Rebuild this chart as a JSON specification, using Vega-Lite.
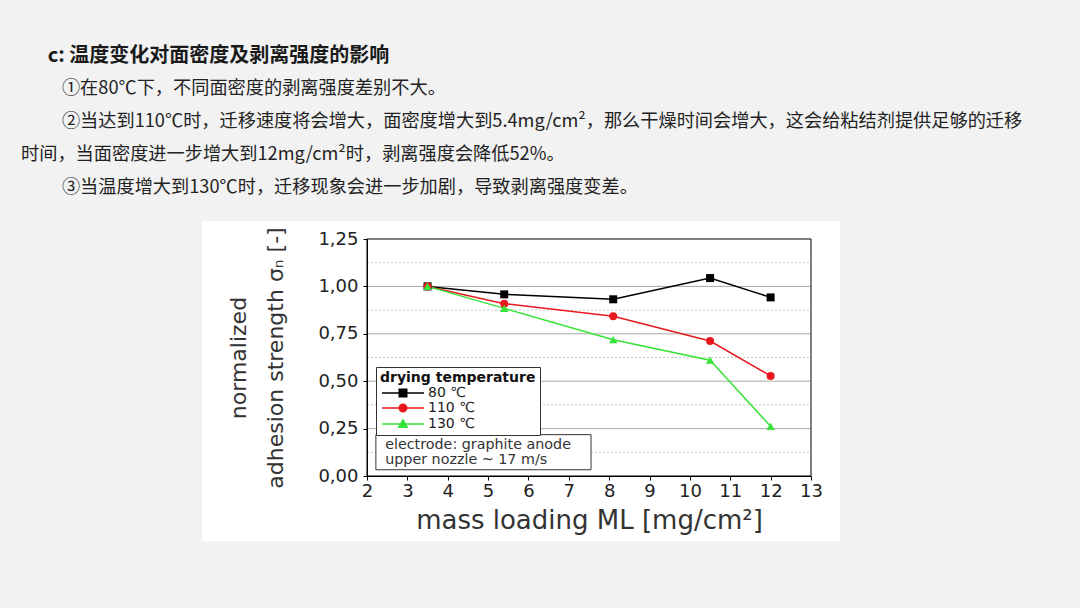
{
  "$schema": "https://vega.github.io/schema/vega-lite/v6.json",
  "width": 444,
  "height": 237,
  "autosize": {"type": "none"},
  "padding": {"left": 367, "top": 239, "right": 269, "bottom": 132},
  "background": "#f2f2f2",
  "config": {
    "view": {"stroke": null},
    "font": "DejaVu Sans",
    "axis": {"labelFont": "DejaVu Sans", "titleFont": "DejaVu Sans"}
  },
  "title": {
    "text": "\u200b\u3000\u2004c: 温度变化对面密度及剥离强度的影响",
    "subtitle": [
      "\u200b\u3000\u3000\u2005①在80℃下，不同面密度的剥离强度差别不大。",
      "\u200b\u3000\u3000\u2005②当达到110℃时，迁移速度将会增大，面密度增大到5.4mg/cm²，那么干燥时间会增大，这会给粘结剂提供足够的迁移",
      "时间，当面密度进一步增大到12mg/cm²时，剥离强度会降低52%。",
      "\u200b\u3000\u3000\u2005③当温度增大到130℃时，迁移现象会进一步加剧，导致剥离强度变差。"
    ],
    "anchor": "start",
    "frame": "group",
    "align": "left",
    "dx": -346,
    "offset": 25,
    "font": "Noto Sans CJK SC",
    "fontSize": 20,
    "fontWeight": "bold",
    "color": "#1a1a1a",
    "subtitleFont": "Noto Sans CJK SC",
    "subtitleFontSize": 18.2,
    "subtitleColor": "#222222",
    "subtitleLineHeight": 33,
    "subtitlePadding": 14
  },
  "datasets": {
    "adhesion": [
      {"series": "80 ℃", "ML": 3.5, "S": 1.0},
      {"series": "80 ℃", "ML": 5.4, "S": 0.958},
      {"series": "80 ℃", "ML": 8.1, "S": 0.932},
      {"series": "80 ℃", "ML": 10.5, "S": 1.044},
      {"series": "80 ℃", "ML": 12.0, "S": 0.942},
      {"series": "110 ℃", "ML": 3.5, "S": 1.0},
      {"series": "110 ℃", "ML": 5.4, "S": 0.909},
      {"series": "110 ℃", "ML": 8.1, "S": 0.842},
      {"series": "110 ℃", "ML": 10.5, "S": 0.712},
      {"series": "110 ℃", "ML": 12.0, "S": 0.528},
      {"series": "130 ℃", "ML": 3.5, "S": 1.0},
      {"series": "130 ℃", "ML": 5.4, "S": 0.884},
      {"series": "130 ℃", "ML": 8.1, "S": 0.719},
      {"series": "130 ℃", "ML": 10.5, "S": 0.611},
      {"series": "130 ℃", "ML": 12.0, "S": 0.262}
    ]
  },
  "data": {"name": "adhesion"},
  "layer": [
    {
      "data": {"values": [{}]},
      "mark": {"type": "rect", "fill": "#ffffff", "stroke": null},
      "encoding": {
        "x": {
          "datum": -2.088,
          "scale": {"domain": [2, 13], "nice": false, "zero": false},
          "axis": {
            "values": [2, 3, 4, 5, 6, 7, 8, 9, 10, 11, 12, 13],
            "title": "mass loading ML [mg/cm²]",
            "titleFontSize": 26, "titleFontWeight": "normal", "titleColor": "#333333", "titlePadding": 7,
            "labelFontSize": 18, "labelColor": "#222222", "labelPadding": 2, "labelFlush": false, "labelOverlap": false,
            "tickSize": 4, "tickColor": "#000000", "domainColor": "#000000", "grid": false, "zindex": 1
          }
        },
        "x2": {"datum": 13.72},
        "y": {
          "datum": -0.343,
          "scale": {"domain": [0, 1.25], "nice": false, "zero": false},
          "axis": {
            "values": [0, 0.125, 0.25, 0.375, 0.5, 0.625, 0.75, 0.875, 1, 1.125, 1.25],
            "labelExpr": "(round(datum.value*4) == datum.value*4) ? replace(format(datum.value, '.2f'), '.', ',') : ''",
            "title": ["normalized", "adhesion strength σₙ [-]"],
            "titleFontSize": 22, "titleLineHeight": 37, "titleFontWeight": "normal", "titleColor": "#333333", "titlePadding": 30,
            "labelFontSize": 18, "labelColor": "#222222", "labelPadding": 5, "labelFlush": false, "labelOverlap": false,
            "tickSize": 4, "tickColor": "#000000", "domainColor": "#000000", "grid": false, "zindex": 1
          }
        },
        "y2": {"datum": 1.345}
      }
    },
    {"data": {"values": [{}]}, "mark": {"type": "rule", "color": "#c8c8c8", "strokeWidth": 1, "strokeDash": [2, 2]},
     "encoding": {"x": {"datum": 2, "scale": {"domain": [2, 13], "nice": false, "zero": false}}, "x2": {"datum": 13}, "y": {"datum": 0.125, "scale": {"domain": [0, 1.25], "nice": false, "zero": false}}}},
    {"data": {"values": [{}]}, "mark": {"type": "rule", "color": "#c8c8c8", "strokeWidth": 1, "strokeDash": [2, 2]},
     "encoding": {"x": {"datum": 2, "scale": {"domain": [2, 13], "nice": false, "zero": false}}, "x2": {"datum": 13}, "y": {"datum": 0.375, "scale": {"domain": [0, 1.25], "nice": false, "zero": false}}}},
    {"data": {"values": [{}]}, "mark": {"type": "rule", "color": "#c8c8c8", "strokeWidth": 1, "strokeDash": [2, 2]},
     "encoding": {"x": {"datum": 2, "scale": {"domain": [2, 13], "nice": false, "zero": false}}, "x2": {"datum": 13}, "y": {"datum": 0.625, "scale": {"domain": [0, 1.25], "nice": false, "zero": false}}}},
    {"data": {"values": [{}]}, "mark": {"type": "rule", "color": "#c8c8c8", "strokeWidth": 1, "strokeDash": [2, 2]},
     "encoding": {"x": {"datum": 2, "scale": {"domain": [2, 13], "nice": false, "zero": false}}, "x2": {"datum": 13}, "y": {"datum": 0.875, "scale": {"domain": [0, 1.25], "nice": false, "zero": false}}}},
    {"data": {"values": [{}]}, "mark": {"type": "rule", "color": "#c8c8c8", "strokeWidth": 1, "strokeDash": [2, 2]},
     "encoding": {"x": {"datum": 2, "scale": {"domain": [2, 13], "nice": false, "zero": false}}, "x2": {"datum": 13}, "y": {"datum": 1.125, "scale": {"domain": [0, 1.25], "nice": false, "zero": false}}}},
    {"data": {"values": [{}]}, "mark": {"type": "rule", "color": "#a8a8a8", "strokeWidth": 1},
     "encoding": {"x": {"datum": 2, "scale": {"domain": [2, 13], "nice": false, "zero": false}}, "x2": {"datum": 13}, "y": {"datum": 0.25, "scale": {"domain": [0, 1.25], "nice": false, "zero": false}}}},
    {"data": {"values": [{}]}, "mark": {"type": "rule", "color": "#a8a8a8", "strokeWidth": 1},
     "encoding": {"x": {"datum": 2, "scale": {"domain": [2, 13], "nice": false, "zero": false}}, "x2": {"datum": 13}, "y": {"datum": 0.5, "scale": {"domain": [0, 1.25], "nice": false, "zero": false}}}},
    {"data": {"values": [{}]}, "mark": {"type": "rule", "color": "#a8a8a8", "strokeWidth": 1},
     "encoding": {"x": {"datum": 2, "scale": {"domain": [2, 13], "nice": false, "zero": false}}, "x2": {"datum": 13}, "y": {"datum": 0.75, "scale": {"domain": [0, 1.25], "nice": false, "zero": false}}}},
    {"data": {"values": [{}]}, "mark": {"type": "rule", "color": "#a8a8a8", "strokeWidth": 1},
     "encoding": {"x": {"datum": 2, "scale": {"domain": [2, 13], "nice": false, "zero": false}}, "x2": {"datum": 13}, "y": {"datum": 1.0, "scale": {"domain": [0, 1.25], "nice": false, "zero": false}}}},
    {
      "data": {"values": [{}]},
      "mark": {"type": "rect", "filled": false, "color": "#000000", "strokeWidth": 1},
      "encoding": {
        "x": {"datum": 2, "scale": {"domain": [2, 13], "nice": false, "zero": false}},
        "x2": {"datum": 13},
        "y": {"datum": 0, "scale": {"domain": [0, 1.25], "nice": false, "zero": false}},
        "y2": {"datum": 1.25}
      }
    },
    {
      "mark": {"type": "line", "strokeWidth": 1.5},
      "encoding": {
        "x": {"field": "ML", "type": "quantitative", "scale": {"domain": [2, 13], "nice": false, "zero": false}},
        "y": {"field": "S", "type": "quantitative", "scale": {"domain": [0, 1.25], "nice": false, "zero": false}},
        "color": {"field": "series", "type": "nominal", "scale": {"domain": ["80 ℃", "110 ℃", "130 ℃"], "range": ["#000000", "#e8191e", "#36e336"]}}
      }
    },
    {
      "transform": [{"filter": {"field": "series", "equal": "80 ℃"}}],
      "mark": {"type": "point", "shape": "square", "filled": true, "size": 64, "opacity": 1},
      "encoding": {
        "x": {"field": "ML", "type": "quantitative", "scale": {"domain": [2, 13], "nice": false, "zero": false}},
        "y": {"field": "S", "type": "quantitative", "scale": {"domain": [0, 1.25], "nice": false, "zero": false}},
        "color": {"field": "series", "type": "nominal", "scale": {"domain": ["80 ℃", "110 ℃", "130 ℃"], "range": ["#000000", "#e8191e", "#36e336"]}}
      }
    },
    {
      "transform": [{"filter": {"field": "series", "equal": "110 ℃"}}],
      "mark": {"type": "point", "shape": "circle", "filled": true, "size": 64, "opacity": 1},
      "encoding": {
        "x": {"field": "ML", "type": "quantitative", "scale": {"domain": [2, 13], "nice": false, "zero": false}},
        "y": {"field": "S", "type": "quantitative", "scale": {"domain": [0, 1.25], "nice": false, "zero": false}},
        "color": {"field": "series", "type": "nominal", "scale": {"domain": ["80 ℃", "110 ℃", "130 ℃"], "range": ["#000000", "#e8191e", "#36e336"]}}
      }
    },
    {
      "transform": [{"filter": {"field": "series", "equal": "130 ℃"}}],
      "mark": {"type": "point", "shape": "triangle-up", "filled": true, "size": 70, "opacity": 1},
      "encoding": {
        "x": {"field": "ML", "type": "quantitative", "scale": {"domain": [2, 13], "nice": false, "zero": false}},
        "y": {"field": "S", "type": "quantitative", "scale": {"domain": [0, 1.25], "nice": false, "zero": false}},
        "color": {"field": "series", "type": "nominal", "scale": {"domain": ["80 ℃", "110 ℃", "130 ℃"], "range": ["#000000", "#e8191e", "#36e336"]}}
      }
    },
    {
      "mark": {"type": "point", "filled": true, "opacity": 0},
      "encoding": {
        "x": {"field": "ML", "type": "quantitative", "scale": {"domain": [2, 13], "nice": false, "zero": false}},
        "y": {"field": "S", "type": "quantitative", "scale": {"domain": [0, 1.25], "nice": false, "zero": false}},
        "color": {
          "field": "series", "type": "nominal",
          "scale": {"domain": ["80 ℃", "110 ℃", "130 ℃"], "range": ["#000000", "#e8191e", "#36e336"]},
          "legend": {
            "title": "drying temperature", "orient": "none", "legendX": 9, "legendY": 128,
            "titleFont": "DejaVu Sans", "titleFontSize": 14, "titleFontWeight": "bold", "titleColor": "#111111", "titlePadding": 1,
            "labelFont": "DejaVu Sans", "labelFontSize": 14, "labelColor": "#222222", "labelOffset": 34,
            "symbolSize": 100, "symbolStrokeWidth": 1.5, "symbolOpacity": 1, "rowPadding": 1, "padding": 4,
            "strokeColor": "#333333", "fillColor": "#ffffff", "zindex": 2,
            "encode": {"symbols": {"update": {"stroke": {"scale": "color", "field": "value"}, "fill": {"scale": "color", "field": "value"}, "strokeWidth": {"value": 1.5}, "opacity": {"value": 1}}}}
          }
        },
        "shape": {
          "field": "series", "type": "nominal",
          "scale": {
            "domain": ["80 ℃", "110 ℃", "130 ℃"],
            "range": [
              "M-1,0H7.4M2.45,-0.75H3.95V0.75H2.45Z",
              "M-1,0H7.4M3.95,0A0.75,0.75 0 1,1 2.45,0A0.75,0.75 0 1,1 3.95,0Z",
              "M-1,0H7.4M3.2,-0.85L4.05,0.65H2.35Z"
            ]
          },
          "legend": {
            "title": "drying temperature", "orient": "none", "legendX": 9, "legendY": 128,
            "titleFont": "DejaVu Sans", "titleFontSize": 14, "titleFontWeight": "bold", "titleColor": "#111111", "titlePadding": 1,
            "labelFont": "DejaVu Sans", "labelFontSize": 14, "labelColor": "#222222", "labelOffset": 34,
            "symbolSize": 100, "symbolStrokeWidth": 1.5, "symbolOpacity": 1, "rowPadding": 1, "padding": 4,
            "strokeColor": "#333333", "fillColor": "#ffffff", "zindex": 2,
            "encode": {"symbols": {"update": {"stroke": {"scale": "color", "field": "value"}, "fill": {"scale": "color", "field": "value"}, "strokeWidth": {"value": 1.5}, "opacity": {"value": 1}}}}
          }
        }
      }
    },
    {
      "data": {"values": [{}]},
      "mark": {"type": "rect", "fill": "#ffffff", "stroke": "#333333", "strokeWidth": 1},
      "encoding": {
        "x": {"datum": 2.22, "scale": {"domain": [2, 13], "nice": false, "zero": false}},
        "x2": {"datum": 7.55},
        "y": {"datum": 0.033, "scale": {"domain": [0, 1.25], "nice": false, "zero": false}},
        "y2": {"datum": 0.218}
      }
    },
    {
      "data": {"values": [{}]},
      "mark": {"type": "text", "text": ["electrode: graphite anode", "upper nozzle ~ 17 m/s"], "align": "left", "baseline": "top", "font": "DejaVu Sans", "fontSize": 14.3, "lineHeight": 15, "color": "#333333"},
      "encoding": {
        "x": {"datum": 2.45, "scale": {"domain": [2, 13], "nice": false, "zero": false}},
        "y": {"datum": 0.2, "scale": {"domain": [0, 1.25], "nice": false, "zero": false}}
      }
    }
  ]
}
